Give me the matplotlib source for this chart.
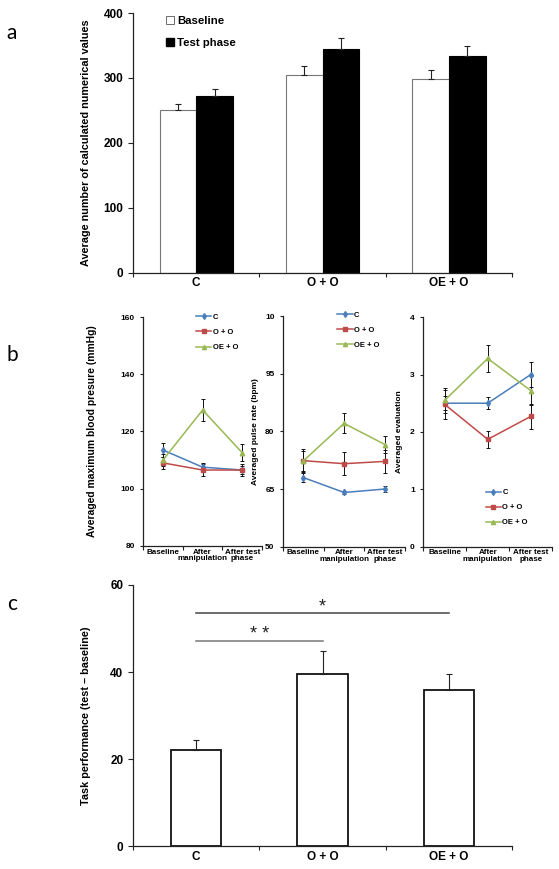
import numpy as np
import matplotlib
matplotlib.use("Agg")
import matplotlib.pyplot as plt
from matplotlib.patches import Patch
from matplotlib.lines import Line2D

plt.rcParams['font.family'] = ['Liberation Sans', 'DejaVu Sans']

# ---- data ----
groups = ["C", "O + O", "OE + O"]

# panel a: calculated numerical values
baseline_vals = [250, 305, 298]
baseline_err = [10, 14, 14]
test_vals = [272, 344, 334]
test_err = [11, 18, 15]

# panel b: physiological measures over time
phases = ["Baseline", "After\nmanipulation", "After test\nphase"]
bp_vals = {"C": [113.5, 107.5, 106.5], "O + O": [109, 106.5, 106.5], "OE + O": [110, 127.5, 112.5]}
bp_err = {"C": [2.5, 1.5, 1.5], "O + O": [2, 2, 2], "OE + O": [2, 4, 3]}
pulse_vals = {"C": [68, 64.1, 65], "O + O": [72.4, 71.6, 72.2], "OE + O": [72.3, 82.1, 76.6]}
pulse_err = {"C": [1.2, 0.3, 0.7], "O + O": [3, 3, 3], "OE + O": [2.5, 2.6, 2.3]}
eval_vals = {"C": [2.5, 2.5, 3.0], "O + O": [2.48, 1.87, 2.27], "OE + O": [2.55, 3.28, 2.72]}
eval_err = {"C": [0.12, 0.1, 0.21], "O + O": [0.25, 0.15, 0.22], "OE + O": [0.22, 0.24, 0.25]}

# panel c: task performance difference
diff_vals = [22.2, 39.6, 35.8]
diff_err = [2.2, 5.2, 3.7]

line_colors = {"C": "#4a7ebb", "O + O": "#be4b48", "OE + O": "#98b954"}
line_markers = {"C": "d", "O + O": "s", "OE + O": "^"}

BOLD = dict(fontweight='bold')


def style_axes(ax):
    for s in ['top', 'right']:
        ax.spines[s].set_visible(False)
    for s in ['left', 'bottom']:
        ax.spines[s].set_color('#222222')
        ax.spines[s].set_linewidth(0.9)
    ax.tick_params(axis='both', which='major', direction='out', color='#222222', width=0.8)


def category_ticks(ax, centers, labels, edges, size):
    ax.set_xticks(edges)
    ax.set_xticklabels([])
    ax.tick_params(axis='x', which='major', length=3)
    ax.set_xticks(centers, minor=True)
    ax.set_xticklabels(labels, minor=True, fontsize=size, fontweight='bold')
    ax.tick_params(axis='x', which='minor', length=0, pad=3)


fig = plt.figure(figsize=(5.59, 8.69), dpi=100)

# ---------------- panel a ----------------
ax_a = fig.add_axes([0.238, 0.686, 0.678, 0.299])
x = np.arange(len(groups))
w = 0.29
ax_a.bar(x - w / 2, baseline_vals, w, color='white', edgecolor='#777777', linewidth=0.8,
         yerr=[np.zeros(3), baseline_err], error_kw=dict(ecolor='#222222', capsize=2, elinewidth=0.8, capthick=0.8))
ax_a.bar(x + w / 2, test_vals, w, color='black', edgecolor='black', linewidth=0.8,
         yerr=[np.zeros(3), test_err], error_kw=dict(ecolor='#222222', capsize=2, elinewidth=0.8, capthick=0.8))
ax_a.set_xlim(-0.5, 2.5)
ax_a.set_ylim(0, 400)
ax_a.set_yticks([0, 100, 200, 300, 400])
ax_a.set_yticklabels(['0', '100', '200', '300', '400'], fontsize=8.5, fontweight='bold')
style_axes(ax_a)
category_ticks(ax_a, x, groups, [-0.5, 0.5, 1.5, 2.5], 8.5)
ax_a.set_ylabel("Average number of calculated numerical values", fontsize=7.8, labelpad=9, **BOLD)
ax_a.legend(handles=[Patch(facecolor='white', edgecolor='#555555', linewidth=0.6, label='Baseline'),
                     Patch(facecolor='black', edgecolor='black', label='Test phase')],
            loc='upper left', bbox_to_anchor=(0.075, 1.005), frameon=False,
            prop=dict(size=8.2, weight='bold'), handlelength=0.7, handleheight=0.7,
            handletextpad=0.3, labelspacing=1.0, borderaxespad=0)

# ---------------- panel b ----------------
phase_x = np.array([0.5, 1.5, 2.5])


def line_panel(rect, vals, errs, ylim, yticks, yticklabels, ylabel, lab_size, lab_pad,
               leg_anchor, leg_loc, leg_space):
    ax = fig.add_axes(rect)
    for g in groups:
        ax.errorbar(phase_x, vals[g], yerr=errs[g], color=line_colors[g], marker=line_markers[g],
                    markersize=3.2, linewidth=1.1, ecolor='#111111', elinewidth=0.7,
                    capsize=1.6, capthick=0.7, label=g)
    ax.set_xlim(0, 3)
    ax.set_ylim(*ylim)
    ax.set_yticks(yticks)
    ax.set_yticklabels(yticklabels, fontsize=6, fontweight='bold')
    ax.tick_params(axis='y', length=2.5)
    style_axes(ax)
    category_ticks(ax, phase_x, phases, [0, 1, 2, 3], 5.8)
    ax.tick_params(axis='x', which='minor', pad=2)
    for lab in ax.get_xticklabels(minor=True):
        lab.set_linespacing(0.9)
    ax.set_ylabel(ylabel, fontsize=lab_size, labelpad=lab_pad, **BOLD)
    handles = [Line2D([0], [0], color=line_colors[g], marker=line_markers[g], markersize=3,
                      linewidth=1.1) for g in groups]
    ax.legend(handles, groups, loc=leg_loc, bbox_to_anchor=leg_anchor, frameon=False,
              prop=dict(size=5.5, weight='bold'), handlelength=2.0, handletextpad=0.2,
              labelspacing=leg_space, borderaxespad=0)
    return ax


line_panel([0.256, 0.372, 0.213, 0.263], bp_vals, bp_err, (80, 160), [80, 100, 120, 140, 160],
           ['80', '100', '120', '140', '160'], "Averaged maximum blood presure (mmHg)", 7.4, 17,
           (0.42, 1.03), 'upper left', 1.05)
line_panel([0.506, 0.371, 0.219, 0.265], pulse_vals, pulse_err, (50, 110), [50, 65, 80, 95, 110],
           ['50', '65', '80', '95', '10'], "Averaged pulse rate (bpm)", 6.0, 4,
           (0.42, 1.035), 'upper left', 1.0)
line_panel([0.757, 0.371, 0.231, 0.264], eval_vals, eval_err, (0, 4), [0, 1, 2, 3, 4],
           ['0', '1', '2', '3', '4'], "Averaged evaluation", 6.0, 5,
           (0.46, 0.265), 'upper left', 1.0)

# ---------------- panel c ----------------
ax_c = fig.add_axes([0.238, 0.026, 0.678, 0.301])
ax_c.bar(x, diff_vals, 0.4, color='white', edgecolor='#111111', linewidth=1.3,
         yerr=[np.zeros(3), diff_err], error_kw=dict(ecolor='#222222', capsize=2, elinewidth=0.8, capthick=0.8))
ax_c.set_xlim(-0.5, 2.5)
ax_c.set_ylim(0, 60)
ax_c.set_yticks([0, 20, 40, 60])
ax_c.set_yticklabels(['0', '20', '40', '60'], fontsize=8.5, fontweight='bold')
style_axes(ax_c)
category_ticks(ax_c, x, groups, [-0.5, 0.5, 1.5, 2.5], 8.5)
ax_c.set_ylabel("Task performance (test \u2013 baseline)", fontsize=7.8, labelpad=14, **BOLD)

# significance brackets
ax_c.plot([0, 2], [53.5, 53.5], color='#444444', linewidth=1.1)
ax_c.text(1, 53.05, "*", ha='center', va='bottom', fontsize=13, color='#222222')
ax_c.plot([0, 1], [47.2, 47.2], color='#777777', linewidth=1.1)
ax_c.text(0.5, 46.75, "* *", ha='center', va='bottom', fontsize=13, color='#222222')

# panel letters
for lab, ypos in [("a", 0.962), ("b", 0.591), ("c", 0.305)]:
    fig.text(0.012, ypos, lab, fontsize=15, family=['Lato', 'DejaVu Sans'], va='center')

fig.savefig("out.png", dpi=100)
